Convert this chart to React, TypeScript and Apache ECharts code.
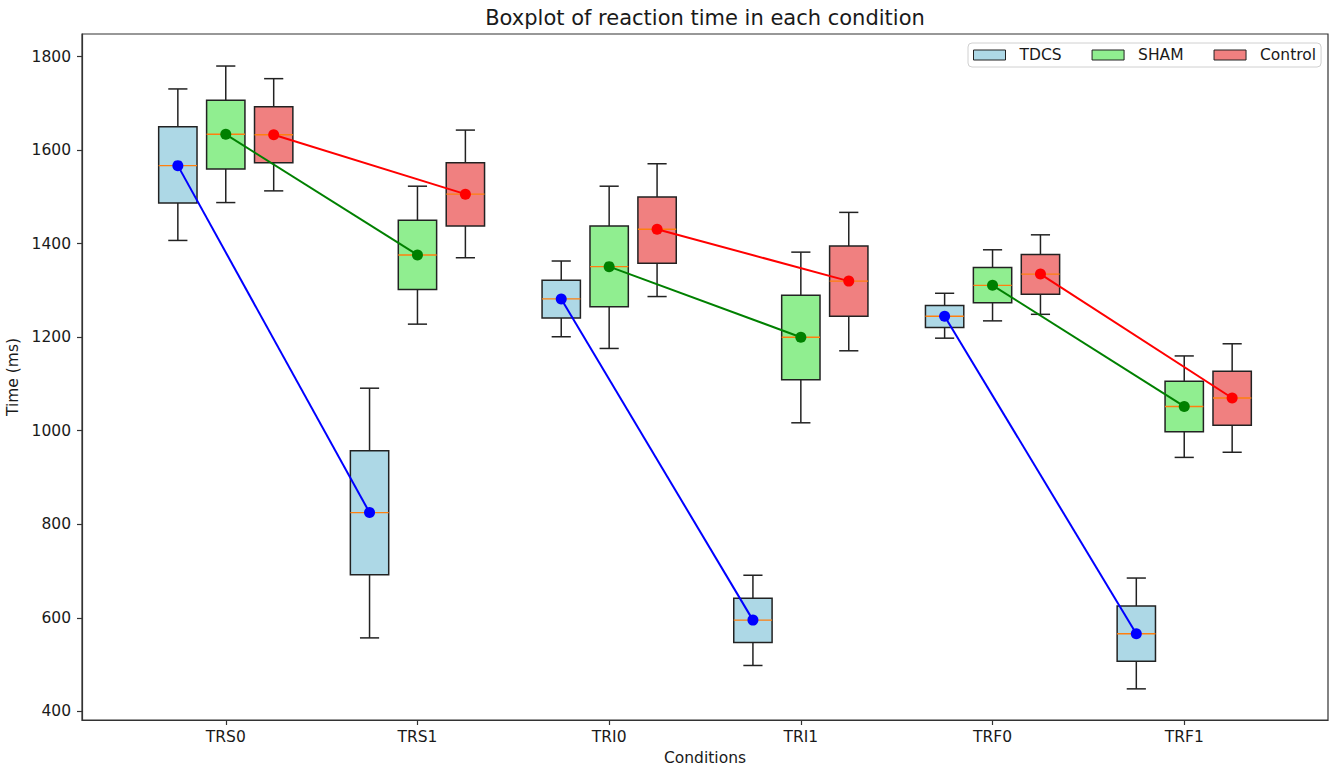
import React, { useEffect, useRef } from 'react';
import * as echarts from 'echarts';

// ---- Data ----
const categories = ['TRS0', 'TRS1', 'TRI0', 'TRI1', 'TRF0', 'TRF1'];
const groupNames = ['TDCS', 'SHAM', 'Control'];
// each entry: [lower whisker, Q1, median, Q3, upper whisker] (ms)
const tdcsStats = [
  [1407, 1487, 1567, 1650, 1731],
  [557, 692, 825, 957, 1091],
  [1201, 1241, 1282, 1322, 1363],
  [498, 547, 595, 642, 691],
  [1198, 1221, 1245, 1268, 1294],
  [448, 507, 566, 625, 685],
];
const shamStats = [
  [1488, 1560, 1634, 1707, 1780],
  [1228, 1302, 1376, 1450, 1523],
  [1176, 1265, 1351, 1438, 1523],
  [1017, 1109, 1200, 1290, 1382],
  [1235, 1274, 1311, 1349, 1387],
  [943, 998, 1052, 1106, 1160],
];
const controlStats = [
  [1513, 1573, 1633, 1693, 1753],
  [1370, 1438, 1506, 1573, 1643],
  [1287, 1358, 1431, 1500, 1571],
  [1171, 1245, 1320, 1395, 1467],
  [1249, 1292, 1335, 1377, 1419],
  [954, 1012, 1070, 1127, 1186],
];
const yTicks = [400, 600, 800, 1000, 1200, 1400, 1600, 1800];
// condition index pairs joined by median lines
const linkedPairs = [[0, 1], [2, 3], [4, 5]];

// ---- Styles ----
const allStats = [tdcsStats, shamStats, controlStats];
const fills = ['#ADD8E6', '#90EE90', '#F08080'];
const lineColors = ['#0000ff', '#008000', '#ff0000'];
const offsets = [-0.25, 0, 0.25];
const BOX_W = 0.2;
const FONT = 'DejaVu Sans';
const TEXT = '#1a1a1a';
const EDGE = '#222';

function buildOption() {
  const series: any[] = [];
  allStats.forEach((stats, g) => {
    const fill = fills[g];
    series.push({
      type: 'custom',
      name: groupNames[g],
      z: 2,
      silent: true,
      itemStyle: { color: fill, borderColor: EDGE, borderWidth: 1 },
      encode: { x: 0, y: [1, 2, 3, 4, 5] },
      data: stats.map((s, i) => [i + 1 + offsets[g], ...s]),
      renderItem: (params: any, api: any) => {
        const x = api.value(0);
        const pLow = api.coord([x, api.value(1)]);
        const pQ1 = api.coord([x, api.value(2)]);
        const pMed = api.coord([x, api.value(3)]);
        const pQ3 = api.coord([x, api.value(4)]);
        const pHigh = api.coord([x, api.value(5)]);
        const w = api.size([BOX_W, 0])[0];
        const cw = w / 4;
        const cx = pLow[0];
        const ls = { stroke: EDGE, lineWidth: 1.5 };
        return {
          type: 'group',
          children: [
            { type: 'line', shape: { x1: cx, y1: pLow[1], x2: cx, y2: pQ1[1] }, style: ls },
            { type: 'line', shape: { x1: cx, y1: pQ3[1], x2: cx, y2: pHigh[1] }, style: ls },
            { type: 'line', shape: { x1: cx - cw, y1: pLow[1], x2: cx + cw, y2: pLow[1] }, style: ls },
            { type: 'line', shape: { x1: cx - cw, y1: pHigh[1], x2: cx + cw, y2: pHigh[1] }, style: ls },
            {
              type: 'rect',
              shape: { x: cx - w / 2, y: pQ3[1], width: w, height: pQ1[1] - pQ3[1] },
              style: { fill, stroke: EDGE, lineWidth: 1.5 },
            },
            {
              type: 'line',
              shape: { x1: cx - w / 2, y1: pMed[1], x2: cx + w / 2, y2: pMed[1] },
              style: { stroke: '#ff7f0e', lineWidth: 1.4 },
            },
          ],
        };
      },
    });
    linkedPairs.forEach(([a, b], k) => {
      series.push({
        type: 'line',
        name: `${groupNames[g]} link ${k}`,
        z: 5,
        silent: true,
        symbol: 'circle',
        symbolSize: 11,
        showSymbol: true,
        itemStyle: { color: lineColors[g] },
        lineStyle: { color: lineColors[g], width: 2 },
        emphasis: { disabled: true },
        data: [
          [a + 1 + offsets[g], stats[a][2]],
          [b + 1 + offsets[g], stats[b][2]],
        ],
      });
    });
  });

  return {
    animation: false,
    backgroundColor: '#ffffff',
    textStyle: { fontFamily: FONT },
    graphic: [
      {
        type: 'text',
        x: 705,
        y: 18,
        style: {
          text: 'Boxplot of reaction time in each condition',
          font: `21px "${FONT}"`,
          fill: TEXT,
          textAlign: 'center',
          textVerticalAlign: 'middle',
        },
      },
    ],
    legend: {
      left: 968,
      top: 43,
      orient: 'horizontal',
      icon: 'rect',
      itemWidth: 32,
      itemHeight: 10,
      itemGap: 30,
      padding: [4, 5, 4, 5],
      backgroundColor: '#fff',
      borderColor: '#d0d0d0',
      borderWidth: 1,
      borderRadius: 4,
      textStyle: { fontFamily: FONT, fontSize: 15.5, color: TEXT, padding: [0, 0, 0, 9] },
      data: groupNames.map((n, g) => ({
        name: n,
        itemStyle: { color: fills[g], borderColor: EDGE, borderWidth: 1 },
      })),
    },
    grid: {
      left: 82,
      right: 6,
      top: 34,
      bottom: 48,
      show: true,
      borderColor: '#333',
      borderWidth: 1.2,
      backgroundColor: 'transparent',
      outerBoundsMode: 'none',
    },
    xAxis: {
      type: 'value',
      min: 0.25,
      max: 6.75,
      name: 'Conditions',
      nameLocation: 'middle',
      nameGap: 30,
      nameTextStyle: { fontFamily: FONT, fontSize: 15.5, color: TEXT },
      axisLine: { show: true, onZero: false, lineStyle: { color: '#333', width: 1.2 } },
      axisTick: {
        show: true,
        length: 5,
        customValues: [1, 2, 3, 4, 5, 6],
        lineStyle: { color: '#333', width: 1.2 },
      },
      axisLabel: {
        customValues: [1, 2, 3, 4, 5, 6],
        formatter: (v: number) => categories[Math.round(v) - 1] ?? '',
        fontFamily: FONT,
        fontSize: 15.5,
        color: TEXT,
        margin: 9,
      },
      splitLine: { show: false },
    },
    yAxis: {
      type: 'value',
      min: 381.4,
      max: 1848.5,
      name: 'Time (ms)',
      nameLocation: 'middle',
      nameGap: 50,
      nameRotate: 90,
      nameTextStyle: { fontFamily: FONT, fontSize: 15.5, color: TEXT },
      axisLine: { show: true, onZero: false, lineStyle: { color: '#333', width: 1.2 } },
      axisTick: {
        show: true,
        length: 5,
        customValues: yTicks,
        lineStyle: { color: '#333', width: 1.2 },
      },
      axisLabel: {
        customValues: yTicks,
        formatter: (v: number) => String(Math.round(v)),
        fontFamily: FONT,
        fontSize: 15.5,
        color: TEXT,
        margin: 11,
      },
      splitLine: { show: false },
    },
    series,
  };
}

export default function App() {
  const ref = useRef<HTMLDivElement>(null);
  useEffect(() => {
    if (!ref.current) return;
    const chart = echarts.init(ref.current, undefined, { renderer: 'svg' });
    chart.setOption(buildOption() as any);
    return () => chart.dispose();
  }, []);
  return (
    <div
      ref={ref}
      style={{ position: 'fixed', left: 0, top: 0, width: 1334, height: 768, background: '#fff' }}
    />
  );
}
